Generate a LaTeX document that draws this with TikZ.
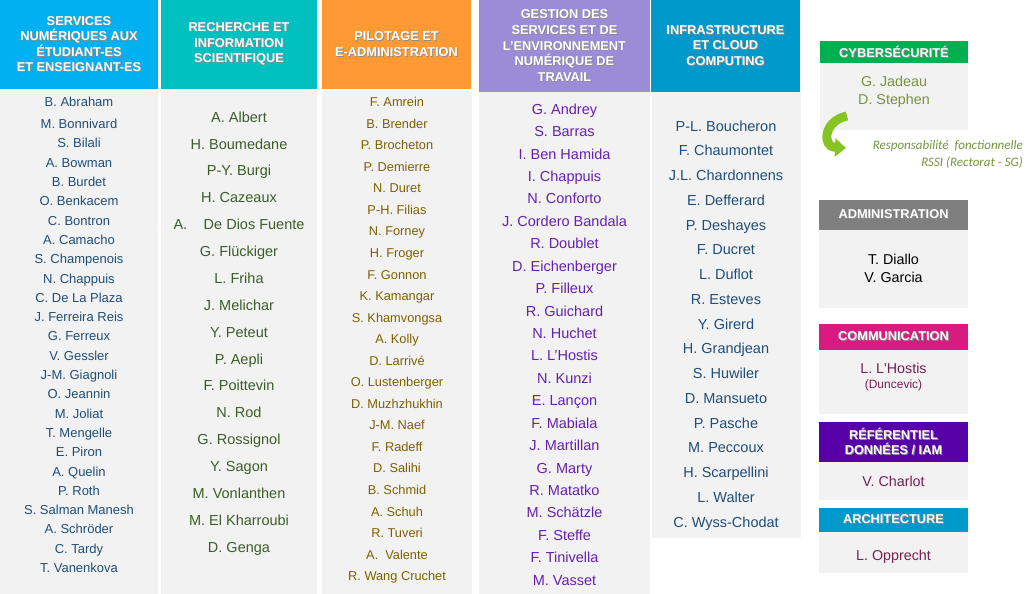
\documentclass[tikz,border=0pt]{standalone}
\usepackage{fontspec}
\setmainfont{Liberation Sans}[Ligatures=TeXOff]
\newfontfamily\carl{Carlito}
\usetikzlibrary{arrows.meta}
\definecolor{hA}{HTML}{00B0F0}
\definecolor{hB}{HTML}{00C0C0}
\definecolor{hC}{HTML}{FF9933}
\definecolor{hD}{HTML}{9A8CD6}
\definecolor{hE}{HTML}{0099CC}
\definecolor{hCy}{HTML}{00B050}
\definecolor{hAd}{HTML}{7F7F7F}
\definecolor{hCo}{HTML}{D91A80}
\definecolor{hRe}{HTML}{5800A8}
\definecolor{bodygray}{HTML}{F2F2F2}
\definecolor{tA}{HTML}{1F4E79}
\definecolor{tB}{HTML}{3B5E27}
\definecolor{tC}{HTML}{7F6000}
\definecolor{tD}{HTML}{6620B0}
\definecolor{tCy}{HTML}{77933C}
\definecolor{tMa}{HTML}{782050}
\definecolor{arrowgreen}{HTML}{86C424}
\newcommand\shd[1]{\leavevmode\rlap{\kern0.9pt\raisebox{-0.9pt}{\color{black!45}#1}}#1}
\begin{document}
\begin{tikzpicture}[x=1pt,y=-1pt,
  boxnode/.style={draw=none,inner sep=0pt,outer sep=0pt,anchor=north west},
  hdr/.style={boxnode,fill=#1,text=white,align=center,
    font=\fontsize{12.8}{15.6}\selectfont\bfseries},
  bodybox/.style={boxnode,fill=bodygray},
  nm/.style={inner sep=0pt,anchor=center,text height=0.72*#1pt,text depth=0pt,
    font=\fontsize{#1}{#1}\selectfont}
]
\useasboundingbox (0,0) rectangle (1029,594);

% ---- column headers ----
\node[hdr=hA,minimum width=158pt,minimum height=89pt] (h1) at (0,0)
  {\shd{SERVICES}\\\shd{NUMÉRIQUES AUX}\\\shd{ÉTUDIANT-ES}\\\shd{ET ENSEIGNANT-ES}};
\node[hdr=hB,minimum width=156pt,minimum height=89pt] (h2) at (161,0)
  {\shd{RECHERCHE ET}\\\shd{INFORMATION}\\\shd{SCIENTIFIQUE}};
\node[hdr=hC,minimum width=149pt,minimum height=89pt] (h3) at (322,0)
  {\shd{PILOTAGE ET}\\\shd{E-ADMINISTRATION}};
\node[hdr=hD,minimum width=171pt,minimum height=92pt] (h4) at (479,0)
  {\shd{GESTION DES}\\\shd{SERVICES ET DE}\\\shd{L’ENVIRONNEMENT}\\\shd{NUMÉRIQUE DE}\\\shd{TRAVAIL}};
\node[hdr=hE,minimum width=149pt,minimum height=92pt] (h5) at (651,0)
  {\shd{INFRASTRUCTURE}\\\shd{ET CLOUD}\\\shd{COMPUTING}};

% ---- column bodies ----
\node[bodybox,minimum width=158pt,minimum height=503pt] (b1) at (0,91) {};
\node[bodybox,minimum width=156pt,minimum height=503pt] (b2) at (161,91) {};
\node[bodybox,minimum width=150pt,minimum height=503pt] (b3) at (322,91) {};
\node[bodybox,minimum width=171pt,minimum height=502pt] (b4) at (479,92) {};
\node[bodybox,minimum width=149pt,minimum height=446pt] (b5) at (652,92) {};

% ---- column 1 names ----
\node[nm=13,text=tA] (a1) at (79,102) {B. Abraham};
\foreach \n [count=\i] in {M. Bonnivard, S. Bilali, A. Bowman, B. Burdet, O. Benkacem,
  C. Bontron, A. Camacho, S. Champenois, N. Chappuis, C. De La Plaza, J. Ferreira Reis,
  G. Ferreux, V. Gessler, J-M. Giagnoli, O. Jeannin, M. Joliat, T. Mengelle, E. Piron,
  A. Quelin, P. Roth, S. Salman Manesh, A. Schröder, C. Tardy, T. Vanenkova}
  \node[nm=13,text=tA] (a\i x) at (79,{124+(\i-1)*19.3}) {\n};

% ---- column 2 names ----
\foreach \n [count=\i] in {A. Albert, H. Boumedane, P-Y. Burgi, H. Cazeaux,
  {A.\hspace{16.5pt}De Dios Fuente}, G. Flückiger, L. Friha, J. Melichar, Y. Peteut,
  P. Aepli, F. Poittevin, N. Rod, G. Rossignol, Y. Sagon, M. Vonlanthen,
  M. El Kharroubi, D. Genga}
  \node[nm=14.5,text=tB] (bn\i) at (239,{117+(\i-1)*26.875}) {\n};

% ---- column 3 names ----
\foreach \n [count=\i] in {F. Amrein, B. Brender, P. Brocheton, P. Demierre, N. Duret,
  P-H. Filias, N. Forney, H. Froger, F. Gonnon, K. Kamangar, S. Khamvongsa, A. Kolly,
  D. Larrivé, O. Lustenberger, D. Muzhzhukhin, J-M. Naef, F. Radeff, D. Salihi,
  B. Schmid, A. Schuh, R. Tuveri, {A.\hspace{7pt}Valente}, R. Wang Cruchet}
  \node[nm=12.8,text=tC] (cn\i) at (397,{102+(\i-1)*21.55}) {\n};

% ---- column 4 names ----
\foreach \n [count=\i] in {G. Andrey, S. Barras, I. Ben Hamida, I. Chappuis, N. Conforto,
  J. Cordero Bandala, R. Doublet, D. Eichenberger, P. Filleux, R. Guichard, N. Huchet,
  L. L’Hostis, N. Kunzi, E. Lançon, F. Mabiala, J. Martillan, G. Marty, R. Matatko,
  M. Schätzle, F. Steffe, F. Tinivella, M. Vasset}
  \node[nm=14.5,text=tD] (dn\i) at (564.5,{109+(\i-1)*22.43}) {\n};

% ---- column 5 names ----
\foreach \n [count=\i] in {P-L. Boucheron, F. Chaumontet, J.L. Chardonnens, E. Defferard,
  P. Deshayes, F. Ducret, L. Duflot, R. Esteves, Y. Girerd, H. Grandjean, S. Huwiler,
  D. Mansueto, P. Pasche, M. Peccoux, H. Scarpellini, L. Walter, C. Wyss-Chodat}
  \node[nm=14.5,text=tA] (en\i) at (726,{126+(\i-1)*24.75}) {\n};

% ---- right boxes ----
\node[hdr=hCy,minimum width=148pt,minimum height=22pt] (cyh) at (820,41) {\shd{CYBERSÉCURITÉ}};
\node[bodybox,minimum width=148pt,minimum height=67pt] (cyb) at (820,63) {};
\node[nm=14.3,text=tCy] (cyn1) at (894,81) {G. Jadeau};
\node[nm=14.3,text=tCy] (cyn2) at (894,99) {D. Stephen};

\node[hdr=hAd,minimum width=149pt,minimum height=30pt] (adh) at (819,200) {\shd{ADMINISTRATION}};
\node[bodybox,minimum width=149pt,minimum height=78pt] (adb) at (819,230) {};
\node[nm=14.3,text=black] (adn1) at (893.5,259) {T. Diallo};
\node[nm=14.3,text=black] (adn2) at (893.5,277) {V. Garcia};

\node[hdr=hCo,minimum width=149pt,minimum height=26pt] (coh) at (819,324) {\shd{COMMUNICATION}};
\node[bodybox,minimum width=149pt,minimum height=64pt] (cob) at (819,350) {};
\node[nm=14.3,text=tMa] (con) at (893.5,368) {L. L'Hostis};
\node[nm=12,text=tMa] (cod) at (893.5,384) {(Duncevic)};

\node[hdr=hRe,minimum width=149pt,minimum height=40pt] (reh) at (819,422)
  {\shd{RÉFÉRENTIEL}\\\shd{DONNÉES / IAM}};
\node[bodybox,minimum width=149pt,minimum height=38pt] (reb) at (819,462) {};
\node[nm=14.3,text=tMa] (ren) at (893.5,481) {V. Charlot};

\node[hdr=hE,minimum width=149pt,minimum height=24pt] (arh) at (819,508) {\shd{ARCHITECTURE}};
\node[bodybox,minimum width=149pt,minimum height=41pt] (arb) at (819,532) {};
\node[nm=14.3,text=tMa] (arn) at (893.5,555) {L. Opprecht};

% ---- curved arrow and note ----
\coordinate (arS) at (847,116);
\coordinate (arE) at (846,148);
\draw[arrowgreen,line width=9pt,-{Triangle[width=18pt,length=11pt]}]
  (arS) .. controls (823,121) and (822,147) .. (arE);
\node[inner sep=0pt,anchor=east,align=right,text=tCy,
  font=\carl\itshape\fontsize{13}{17.5}\selectfont] (note) at (1023,154.5)
  {Responsabilité\ \ fonctionnelle\\RSSI (Rectorat - SG)};
\end{tikzpicture}
\end{document}
